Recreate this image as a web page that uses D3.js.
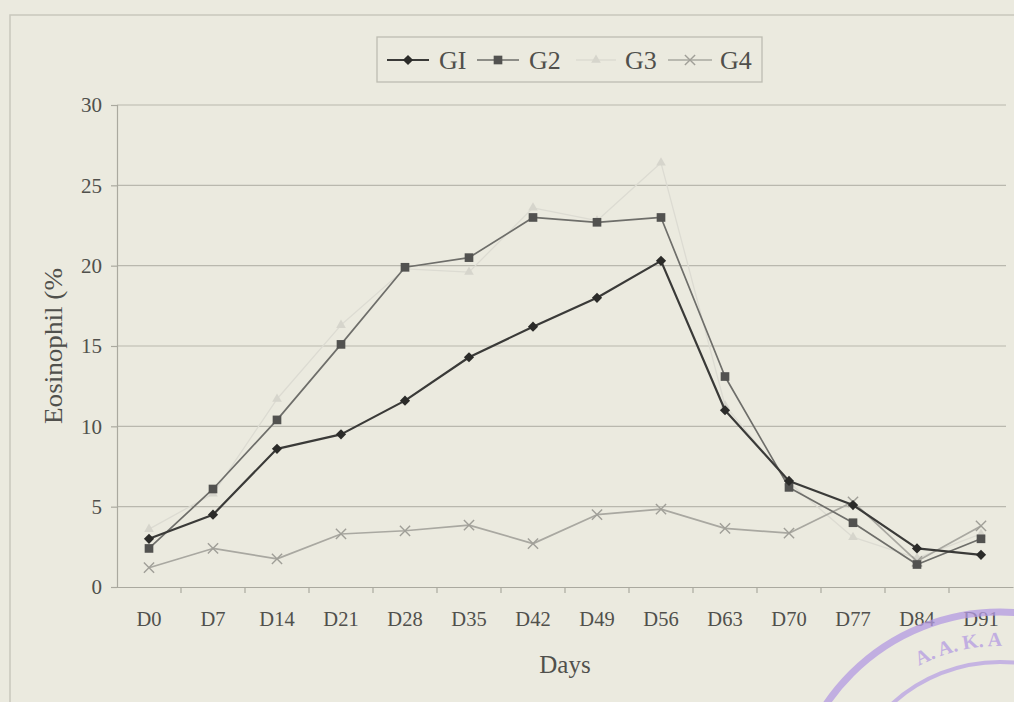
<!DOCTYPE html>
<html>
<head>
<meta charset="utf-8">
<script src="https://cdn.jsdelivr.net/npm/d3@7"></script>
<style>
  html, body { margin: 0; padding: 0; background: #ebeadf; }
  svg { display: block; }
  text { font-family: "Liberation Serif", "Times New Roman", serif; }
</style>
</head>
<body>
<svg id="chart" width="1014" height="702"></svg>
<script>
// Sampling days
const days = ["D0", "D7", "D14", "D21", "D28", "D35", "D42", "D49", "D56", "D63", "D70", "D77", "D84", "D91"];

// Eosinophil (%) per group
const g1 = [3.0, 4.5, 8.6, 9.5, 11.6, 14.3, 16.2, 18.0, 20.3, 11.0, 6.6, 5.1, 2.4, 2.0];
const g2 = [2.4, 6.1, 10.4, 15.1, 19.9, 20.5, 23.0, 22.7, 23.0, 13.1, 6.2, 4.0, 1.4, 3.0];
const g3 = [3.6, 5.8, 11.7, 16.3, 19.8, 19.6, 23.6, 22.8, 26.4, 11.3, 6.5, 3.1, 1.8, 3.3];
const g4 = [1.2, 2.4, 1.75, 3.3, 3.5, 3.85, 2.7, 4.5, 4.85, 3.65, 3.35, 5.3, 1.6, 3.8];

// Legend labels and y tick values
const seriesNames = ["GI", "G2", "G3", "G4"];
const yTicks = [0, 5, 10, 15, 20, 25, 30];

const series = [
  { name: seriesNames[0], values: g1, stroke: "#3a3a38", width: 2.2, marker: "diamond", fill: "#2b2b29", mSize: 52 },
  { name: seriesNames[1], values: g2, stroke: "#6e6e6a", width: 1.7, marker: "square", fill: "#525250", mSize: 75 },
  { name: seriesNames[2], values: g3, stroke: "#dcdbd2", width: 1.3, marker: "triangle", fill: "#d6d5cc", mSize: 40 },
  { name: seriesNames[3], values: g4, stroke: "#a9a8a1", width: 1.7, marker: "cross", fill: "#a09f98", mSize: 70 }
];

const svg = d3.select("#chart");

// Outer chart frame
svg.append("rect")
  .attr("x", 10).attr("y", 15).attr("width", 1100).attr("height", 800)
  .attr("fill", "none").attr("stroke", "#c9c8bd").attr("stroke-width", 1.5);

const plot = { left: 117, right: 1013, top: 105, bottom: 587 };

const x = d3.scaleBand().domain(days).range([plot.left, plot.right]).paddingInner(0).paddingOuter(0);
const cx = d => x(d) + x.bandwidth() / 2;
const y = d3.scaleLinear().domain([0, 30]).range([plot.bottom, plot.top]);

// Horizontal gridlines
svg.append("g")
  .selectAll("line")
  .data(yTicks.filter(t => t > 0))
  .join("line")
  .attr("x1", plot.left).attr("x2", 1006)
  .attr("y1", d => y(d)).attr("y2", d => y(d))
  .attr("stroke", "#b9b8ae").attr("stroke-width", 1.2);

// Y axis
const yAxis = svg.append("g")
  .attr("transform", `translate(${plot.left},0)`)
  .call(d3.axisLeft(y).tickValues(yTicks).tickSize(6).tickPadding(9));
yAxis.select(".domain").attr("stroke", "#aaa99f").attr("stroke-width", 1.2);
yAxis.selectAll(".tick line").attr("stroke", "#aaa99f").attr("stroke-width", 1.2);
yAxis.selectAll(".tick text")
  .attr("fill", "#50504c").attr("font-size", 21)
  .style("font-family", "'Liberation Serif', serif");

// X axis
const xAxis = svg.append("g")
  .attr("transform", `translate(0,${plot.bottom})`)
  .call(d3.axisBottom(x).tickSize(0).tickPadding(24));
xAxis.select(".domain").attr("stroke", "#aaa99f").attr("stroke-width", 1.2);
xAxis.selectAll(".tick text")
  .attr("fill", "#50504c").attr("font-size", 20.5)
  .style("font-family", "'Liberation Serif', serif");

// Tick marks between categories
svg.append("g")
  .selectAll("line")
  .data(days.slice(1))
  .join("line")
  .attr("x1", d => x(d)).attr("x2", d => x(d))
  .attr("y1", plot.bottom).attr("y2", plot.bottom + 6)
  .attr("stroke", "#aaa99f").attr("stroke-width", 1.2);

// Axis titles
svg.append("text")
  .attr("transform", `translate(62,346) rotate(-90)`)
  .attr("text-anchor", "middle")
  .attr("fill", "#50504c").attr("font-size", 25)
  .attr("textLength", 156).attr("lengthAdjust", "spacingAndGlyphs")
  .text("Eosinophil (%");

svg.append("text")
  .attr("x", 565).attr("y", 673)
  .attr("text-anchor", "middle")
  .attr("fill", "#50504c").attr("font-size", 25)
  .text("Days");

// Marker drawing
function drawMarker(g, s, px, py) {
  if (s.marker === "cross") {
    g.append("path")
      .attr("d", d3.symbol(d3.symbolX, s.mSize)())
      .attr("transform", `translate(${px},${py})`)
      .attr("fill", "none").attr("stroke", s.fill).attr("stroke-width", 1.4);
  } else if (s.marker === "diamond") {
    g.append("path")
      .attr("d", d3.symbol(d3.symbolSquare, s.mSize)())
      .attr("transform", `translate(${px},${py}) rotate(45)`)
      .attr("fill", s.fill);
  } else {
    const type = s.marker === "square" ? d3.symbolSquare : d3.symbolTriangle;
    g.append("path")
      .attr("d", d3.symbol(type, s.mSize)())
      .attr("transform", `translate(${px},${py})`)
      .attr("fill", s.fill);
  }
}

const line = d3.line().x((v, i) => cx(days[i])).y(v => y(v));

// Faint series first so darker ones sit on top
const order = [2, 3, 1, 0];
order.forEach(k => {
  const s = series[k];
  const g = svg.append("g");
  g.append("path")
    .datum(s.values)
    .attr("d", line)
    .attr("fill", "none")
    .attr("stroke", s.stroke)
    .attr("stroke-width", s.width)
    .attr("stroke-linejoin", "round");
  s.values.forEach((v, i) => drawMarker(g, s, cx(days[i]), y(v)));
});

// Legend
const legend = svg.append("g");
legend.append("rect")
  .attr("x", 377).attr("y", 37).attr("width", 385).attr("height", 45)
  .attr("fill", "#ebeadf").attr("stroke", "#bdbcb2").attr("stroke-width", 1.3);

const legendItems = [
  { s: series[0], x0: 387, x1: 429, tx: 439 },
  { s: series[1], x0: 477, x1: 519, tx: 529 },
  { s: series[2], x0: 576, x1: 616, tx: 625 },
  { s: series[3], x0: 668, x1: 712, tx: 720 }
];
legendItems.forEach(it => {
  const ly = 60;
  legend.append("line")
    .attr("x1", it.x0).attr("x2", it.x1).attr("y1", ly).attr("y2", ly)
    .attr("stroke", it.s.stroke).attr("stroke-width", it.s.width);
  drawMarker(legend, it.s, (it.x0 + it.x1) / 2, ly);
  legend.append("text")
    .attr("x", it.tx).attr("y", ly + 9)
    .attr("fill", "#50504c").attr("font-size", 26)
    .text(it.s.name);
});

// Ink stamp in the lower right corner
const stamp = svg.append("g").attr("opacity", 0.75);
stamp.append("circle")
  .attr("cx", 1000).attr("cy", 822).attr("r", 210)
  .attr("fill", "none").attr("stroke", "#b49ae2").attr("stroke-width", 7);
stamp.append("circle")
  .attr("cx", 1000).attr("cy", 822).attr("r", 160)
  .attr("fill", "none").attr("stroke", "#b9a2e4").attr("stroke-width", 4);
stamp.append("path")
  .attr("id", "stampArc")
  .attr("d", d3.arc()({ innerRadius: 176, outerRadius: 176, startAngle: -0.75, endAngle: 0.6 }))
  .attr("transform", "translate(1000,822)")
  .attr("fill", "none");
stamp.append("text")
  .attr("fill", "#b49ae2").attr("font-size", 20).attr("font-weight", "bold")
  .append("textPath")
  .attr("href", "#stampArc")
  .attr("startOffset", "10%")
  .text("A. A. K. A");
</script>
</body>
</html>
